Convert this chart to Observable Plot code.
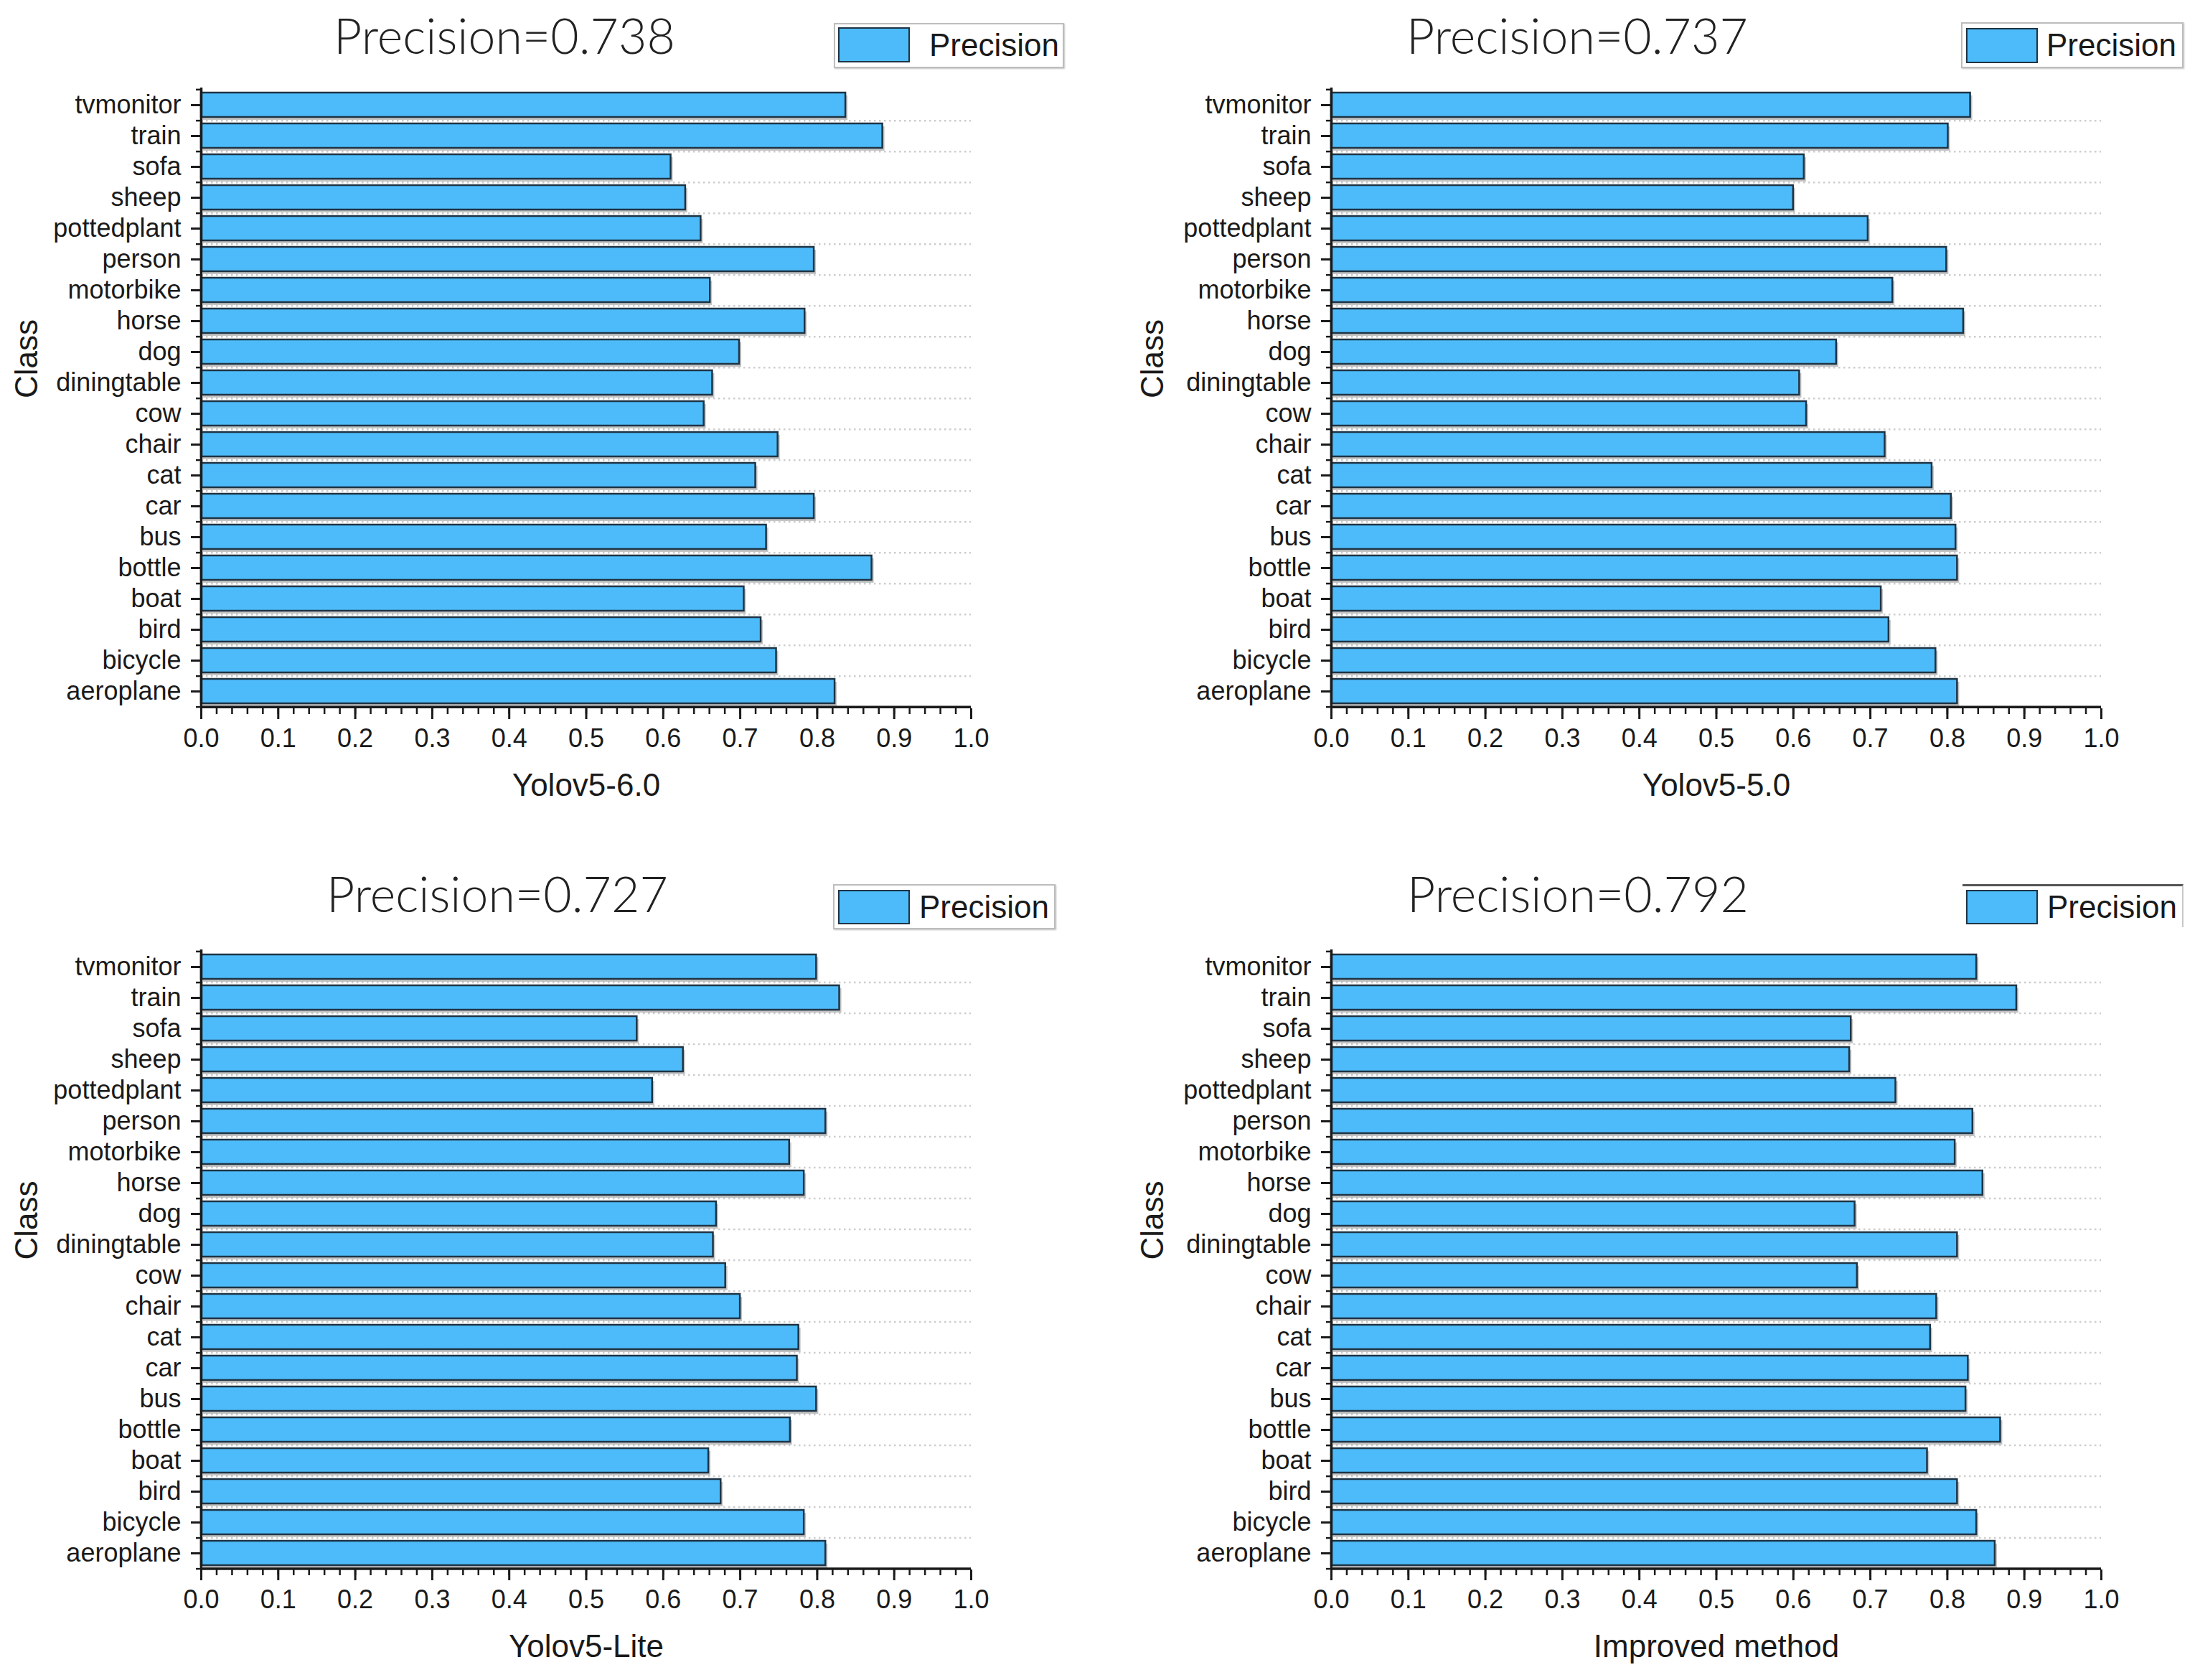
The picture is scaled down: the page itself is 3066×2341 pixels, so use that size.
<!DOCTYPE html>
<html>
<head>
<meta charset="utf-8">
<script src="https://cdn.jsdelivr.net/npm/d3@7"></script>
<script src="https://cdn.jsdelivr.net/npm/@observablehq/plot@0.6"></script>
<style>
  html, body { margin: 0; padding: 0; background: #fff; }
  #chart { position: relative; width: 3066px; height: 2341px; overflow: hidden; background: #fff; }
  .panel { position: absolute; }
  .legend { position: absolute; box-sizing: border-box; }
  .swatch { position: absolute; box-sizing: border-box; background: #4dbbf9; border: 2.5px solid #1e3445; }
  .ltext { position: absolute; font-family: "Liberation Sans", Arial, sans-serif; font-size: 44px; line-height: 44px; color: #1a1a1a; white-space: nowrap; }
</style>
</head>
<body>
<div id="chart"></div>
<script>
// Categories (alphabetical; drawn with aeroplane at the bottom)
const categories = ["aeroplane","bicycle","bird","boat","bottle","bus","car","cat","chair","cow",
  "diningtable","dog","horse","motorbike","person","pottedplant","sheep","sofa","train","tvmonitor"];

const yolov5_60   = [0.823,0.747,0.727,0.705,0.871,0.734,0.796,0.720,0.749,0.653,
                     0.664,0.699,0.784,0.661,0.796,0.649,0.629,0.610,0.885,0.837];
const yolov5_50   = [0.813,0.785,0.724,0.714,0.813,0.811,0.805,0.780,0.719,0.617,
                     0.608,0.656,0.821,0.729,0.799,0.697,0.600,0.614,0.801,0.830];
const yolov5_lite = [0.811,0.783,0.675,0.659,0.765,0.799,0.774,0.776,0.700,0.681,
                     0.665,0.669,0.783,0.764,0.811,0.586,0.626,0.566,0.829,0.799];
const improved    = [0.862,0.838,0.813,0.774,0.869,0.824,0.827,0.778,0.786,0.683,
                     0.813,0.680,0.846,0.810,0.833,0.733,0.673,0.675,0.890,0.838];

const titles  = ["Precision=0.738","Precision=0.737","Precision=0.727","Precision=0.792"];
const xLabels = ["Yolov5-6.0","Yolov5-5.0","Yolov5-Lite","Improved method"];
const legendLabel = "Precision";
const yLabel = "Class";

const BAR = "#4dbbf9";
const INK = "#1a1a1a";

function makePanel(values, title, xlabel, L) {
  const data = categories.map((c, i) => ({c, v: values[i]}));
  const domainY = categories.slice().reverse();
  const n = categories.length;
  const step = (L.h - L.mt - L.mb) / n;
  return Plot.plot({
    width: L.w, height: L.h,
    marginLeft: L.ml, marginRight: L.mr, marginTop: L.mt, marginBottom: L.mb,
    style: {fontFamily: "'Liberation Sans', Arial, sans-serif", fontSize: "36px", color: INK, background: "transparent"},
    x: {domain: [0, 1], axis: null},
    y: {domain: domainY, paddingInner: 0.21, paddingOuter: 0.105, axis: null},
    marks: [
      Plot.ruleY(domainY.slice(0, n - 1), {y: d => d, dy: step / 2, x1: 0, x2: 1,
        stroke: "#cdcdcd", strokeWidth: 2.5, strokeDasharray: "2.5,4.5"}),
      Plot.barX(data, {x: "v", y: "c", fill: "#555", fillOpacity: 0.35, dx: 3, dy: 4}),
      Plot.barX(data, {x: "v", y: "c", fill: BAR, stroke: "#1e3445", strokeWidth: 2.5}),
      Plot.ruleX([0], {stroke: INK, strokeWidth: 3.5}),
      Plot.ruleY([domainY[n - 1]], {y: d => d, dy: step / 2, x1: 0, x2: 1, stroke: INK, strokeWidth: 3.5}),
      Plot.axisX({ticks: 50, tickSize: 8, tickFormat: () => "", stroke: INK, strokeWidth: 2.5, label: null}),
      Plot.axisX({ticks: 10, tickSize: 15, tickPadding: 13, tickFormat: d3.format(".1f"), stroke: INK, strokeWidth: 3, fill: INK, label: null}),
      Plot.axisY({tickSize: 14, tickPadding: 14, stroke: INK, strokeWidth: 3, fill: INK, label: null}),
      Plot.axisY(domainY, {dy: step / 2, tickSize: 7, tickFormat: () => "", stroke: INK, strokeWidth: 2.5, label: null}),
      Plot.axisY([domainY[0]], {dy: -step / 2, tickSize: 7, tickFormat: () => "", stroke: INK, strokeWidth: 2.5, label: null}),
      Plot.text([xlabel], {frameAnchor: "bottom", dy: 121, fontSize: 44, fill: INK}),
      Plot.text([yLabel], {frameAnchor: "left", dx: L.classDx, rotate: -90, fontSize: 44, fill: INK}),
      Plot.text([title], {frameAnchor: "top", dx: L.titleDx, dy: L.titleDy, fontSize: 68, fontWeight: 300,
        fontFamily: "Lato, 'Noto Sans', sans-serif", fill: "#222"})
    ]
  });
}

const layouts = [
  {left: 0,    top: 0,    w: 1533, h: 1170, ml: 280, mr: 180, mt: 122, mb: 183, classDx: -243, titleDx: -114, titleDy: -96},
  {left: 1533, top: 0,    w: 1533, h: 1170, ml: 322, mr: 138, mt: 122, mb: 183, classDx: -249, titleDx: -194, titleDy: -96},
  {left: 0,    top: 1170, w: 1533, h: 1171, ml: 280, mr: 180, mt: 153, mb: 154, classDx: -243, titleDx: -124, titleDy: -101},
  {left: 1533, top: 1170, w: 1533, h: 1171, ml: 322, mr: 138, mt: 153, mb: 154, classDx: -249, titleDx: -193, titleDy: -101}
];
const series = [yolov5_60, yolov5_50, yolov5_lite, improved];

const chart = document.getElementById("chart");
layouts.forEach((L, i) => {
  const svg = makePanel(series[i], titles[i], xLabels[i], L);
  const wrap = document.createElement("div");
  wrap.className = "panel";
  wrap.style.left = L.left + "px";
  wrap.style.top = L.top + "px";
  wrap.appendChild(svg);
  chart.appendChild(wrap);
});

// Legends (HTML, above the plots)
const legends = [
  {box: [1162, 32, 321, 63], sw: [1168, 38, 100, 49], tx: [1295, 78], style: "full"},
  {box: [2733, 31, 310, 64], sw: [2740, 39, 100, 49], tx: [2852, 78], style: "full"},
  {box: [1161, 1232, 310, 63], sw: [1168, 1240, 100, 48], tx: [1281, 1279], style: "full"},
  {box: [2735, 1232, 308, 60], sw: [2740, 1240, 100, 48], tx: [2853, 1279], style: "partial"}
];
legends.forEach(g => {
  const box = document.createElement("div");
  box.className = "legend";
  Object.assign(box.style, {left: g.box[0] + "px", top: g.box[1] + "px", width: g.box[2] + "px", height: g.box[3] + "px"});
  if (g.style === "full") {
    box.style.border = "2px solid #bdbdbd";
    box.style.boxShadow = "1px 1px 2px rgba(0,0,0,0.25)";
  } else {
    box.style.borderTop = "3px solid #555";
    box.style.borderRight = "2px solid #c8c8c8";
  }
  chart.appendChild(box);
  const sw = document.createElement("div");
  sw.className = "swatch";
  Object.assign(sw.style, {left: g.sw[0] + "px", top: g.sw[1] + "px", width: g.sw[2] + "px", height: g.sw[3] + "px"});
  chart.appendChild(sw);
  const t = document.createElement("div");
  t.className = "ltext";
  t.textContent = legendLabel;
  t.style.left = g.tx[0] + "px";
  t.style.top = (g.tx[1] - 37) + "px";
  chart.appendChild(t);
});
</script>
</body>
</html>
